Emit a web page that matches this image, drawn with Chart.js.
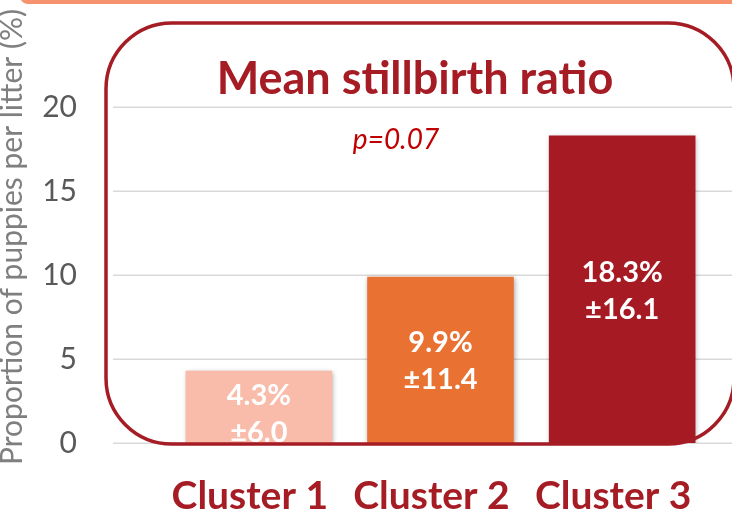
<!DOCTYPE html>
<html><head><meta charset="utf-8">
<script src="https://cdn.jsdelivr.net/npm/chart.js@4"></script>
<style>
html,body{margin:0;padding:0;background:#fff;width:732px;height:515px;overflow:hidden}
canvas{display:block}
</style></head>
<body>
<canvas id="c" width="732" height="515"></canvas>
<script>
const categories = ['Cluster 1', 'Cluster 2', 'Cluster 3'];
const meanValues = [4.3, 9.9, 18.3];
const sdValues = [6.0, 11.4, 16.1];
const yTicks = [0, 5, 10, 15, 20];
const titleText = 'Mean stillbirth ratio';
const pValueText = 'p=0.07';
const yAxisTitle = 'Proportion of puppies per litter (%)';
const barColors = ['#f9bcaa', '#e97132', '#a61a24'];

const DARK_RED = '#a51c24';
const FONT = 'Lato, "Open Sans", sans-serif';

const decor = {
  id: 'decor',
  beforeDraw(chart) {
    const ctx = chart.ctx;
    ctx.save();
    ctx.fillStyle = '#f7926f';
    ctx.beginPath();
    ctx.roundRect(20, -12, 740, 16, 10);
    ctx.fill();
    const y = chart.scales.y;
    ctx.strokeStyle = '#d9d9d9';
    ctx.lineWidth = 1.5;
    yTicks.forEach(v => {
      const py = Math.round(y.getPixelForValue(v)) + 0.25;
      ctx.beginPath();
      ctx.moveTo(113, py);
      ctx.lineTo(732, py);
      ctx.stroke();
    });
    ctx.translate(12, 237);
    ctx.rotate(-Math.PI / 2);
    ctx.fillStyle = '#7f7f7f';
    ctx.font = '30px ' + FONT;
    ctx.textAlign = 'center';
    ctx.textBaseline = 'middle';
    ctx.fillText(yAxisTitle, 0, 0);
    ctx.restore();
  },
  beforeDatasetDraw(chart) {
    const ctx = chart.ctx;
    ctx.save();
    ctx.shadowColor = 'rgba(0,0,0,0.35)';
    ctx.shadowBlur = 5;
    ctx.shadowOffsetX = 1;
    ctx.shadowOffsetY = 1;
  },
  afterDatasetDraw(chart) {
    chart.ctx.restore();
  },
  afterDatasetsDraw(chart) {
    const ctx = chart.ctx;
    const area = chart.chartArea;
    const meta = chart.getDatasetMeta(0);
    ctx.save();
    ctx.beginPath();
    ctx.rect(0, 0, chart.width, area.bottom);
    ctx.clip();
    ctx.fillStyle = '#ffffff';
    ctx.font = 'bold 29px ' + FONT;
    ctx.textAlign = 'center';
    ctx.textBaseline = 'middle';
    const blockH = 84;
    meta.data.forEach((bar, i) => {
      const h = bar.base - bar.y;
      // label box centred in the bar, or top-aligned when the bar is shorter than the box
      const top = h < blockH ? bar.y : (bar.y + bar.base) / 2 - blockH / 2;
      ctx.fillText(meanValues[i].toFixed(1) + '%', bar.x, top + 25);
      ctx.fillText('\u00B1' + sdValues[i].toFixed(1), bar.x, top + 62);
    });
    ctx.restore();

    ctx.save();
    ctx.strokeStyle = DARK_RED;
    ctx.lineWidth = 3.5;
    ctx.beginPath();
    ctx.roundRect(106, 23, 628, 421, 66);
    ctx.stroke();
    ctx.fillStyle = DARK_RED;
    ctx.font = 'bold 45px ' + FONT;
    ctx.textAlign = 'center';
    ctx.textBaseline = 'alphabetic';
    ctx.fillText(titleText, 415, 94);
    ctx.fillStyle = '#c00000';
    ctx.font = 'italic 28px ' + FONT;
    ctx.fillText(pValueText, 396, 149);
    ctx.restore();
  }
};

new Chart(document.getElementById('c'), {
  type: 'bar',
  data: {
    labels: categories,
    datasets: [{
      data: meanValues,
      backgroundColor: barColors,
      borderWidth: 0,
      barPercentage: 0.807,
      categoryPercentage: 1
    }]
  },
  options: {
    responsive: false,
    animation: false,
    devicePixelRatio: 1,
    layout: { padding: { top: 107, right: 19, bottom: 0, left: 0 } },
    plugins: { legend: { display: false }, tooltip: { enabled: false }, title: { display: false } },
    scales: {
      x: {
        grid: { display: false, drawTicks: false },
        border: { display: false },
        ticks: {
          color: DARK_RED,
          font: { family: FONT, size: 39, weight: 'bold' },
          padding: 30,
          labelOffset: -9
        },
        afterFit(s) { s.height = 72; s.paddingLeft = 0; s.paddingRight = 0; }
      },
      y: {
        min: 0, max: 20,
        grid: { display: false, drawTicks: false },
        border: { display: false },
        afterBuildTicks(s) { s.ticks = yTicks.map(v => ({ value: v })); },
        ticks: {
          color: '#595959',
          font: { family: FONT, size: 30 },
          padding: 91
        },
        afterFit(s) { s.width = 168; s.paddingTop = 0; s.paddingBottom = 0; }
      }
    }
  },
  plugins: [decor]
});
</script>
</body></html>
